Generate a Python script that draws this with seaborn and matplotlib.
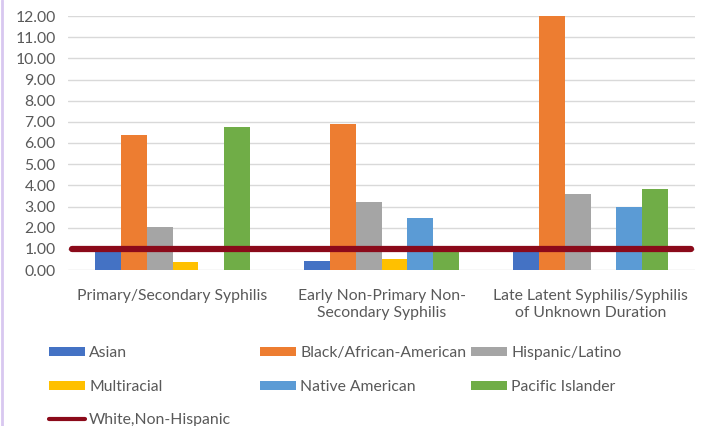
import pandas as pd
import matplotlib.pyplot as plt
import seaborn as sns
from matplotlib.patches import Patch
from matplotlib.lines import Line2D

# categories (x axis)
categories = [
    "Primary/Secondary Syphilis",
    "Early Non-Primary Non-\nSecondary Syphilis",
    "Late Latent Syphilis/Syphilis\nof Unknown Duration",
]

# rate ratios relative to White, Non-Hispanic
asian = [0.95, 0.43, 0.95]
black = [6.40, 6.90, 12.00]
hispanic = [2.02, 3.23, 3.58]
multiracial = [0.40, 0.52, 0.0]
native_american = [0.0, 2.44, 2.96]
pacific_islander = [6.75, 1.0, 3.84]
white_reference = 1.0

groups = ["Asian", "Black/African-American", "Hispanic/Latino",
          "Multiracial", "Native American", "Pacific Islander"]
colors = ["#4472C4", "#ED7D31", "#A5A5A5", "#FFC000", "#5B9BD5", "#70AD47"]
line_color = "#8B0A1A"

series = [asian, black, hispanic, multiracial, native_american, pacific_islander]
rows = []
for g, vals in zip(groups, series):
    for c, v in zip(categories, vals):
        rows.append({"category": c, "group": g, "value": v})
df = pd.DataFrame(rows)

sns.set_theme(style="white")
plt.rcParams['font.family'] = ['Lato', 'DejaVu Sans']
text_color = "#595959"
fs = 11.3

fig = plt.figure(figsize=(7.04, 4.26), dpi=100)
ax = fig.add_axes([68 / 704, 156 / 426, 627 / 704, 254 / 426])

sns.barplot(data=df, x="category", y="value", hue="group", order=categories,
            hue_order=groups, palette=colors, width=0.74, saturation=1,
            linewidth=0, legend=False, ax=ax)

ax.axhline(white_reference, xmin=0.006, xmax=0.994, color=line_color,
           linewidth=4.5, solid_capstyle='round', zorder=5)

ax.set_ylim(0, 12)
ax.set_yticks(range(0, 13))
ax.set_yticklabels([f"{v:.2f}" for v in range(0, 13)])
ax.yaxis.grid(True, color="#D9D9D9", linewidth=1)
ax.set_axisbelow(True)
for s in ax.spines.values():
    s.set_visible(False)
ax.set_xlabel("")
ax.set_ylabel("")
ax.tick_params(axis='both', length=0, labelsize=fs, colors=text_color)
ax.tick_params(axis='x', pad=14)
ax.tick_params(axis='y', pad=9)

# legend: three columns placed like the original
patch_kw = dict(linewidth=0)
col1 = [Patch(facecolor=colors[0], label=groups[0], **patch_kw),
        Patch(facecolor=colors[3], label=groups[3], **patch_kw),
        Line2D([], [], color=line_color, linewidth=3, solid_capstyle='round',
               label="White,Non-Hispanic")]
col2 = [Patch(facecolor=colors[1], label=groups[1], **patch_kw),
        Patch(facecolor=colors[4], label=groups[4], **patch_kw)]
col3 = [Patch(facecolor=colors[2], label=groups[2], **patch_kw),
        Patch(facecolor=colors[5], label=groups[5], **patch_kw)]

for handles, xpx in [(col1, 49), (col2, 260), (col3, 471)]:
    leg = fig.legend(handles=handles, loc='upper left',
                     bbox_to_anchor=(xpx / 704, 1 - 346 / 426),
                     frameon=False, fontsize=fs, handlelength=2.3,
                     handleheight=0.5, handletextpad=0.25, labelspacing=1.25,
                     borderpad=0, borderaxespad=0)
    for t in leg.get_texts():
        t.set_color(text_color)

# thin lavender border on the left edge
fig.add_artist(Line2D([2 / 704, 2 / 704], [0, 1], color="#D8C8F0", linewidth=2))

fig.savefig("out.png", dpi=100)
